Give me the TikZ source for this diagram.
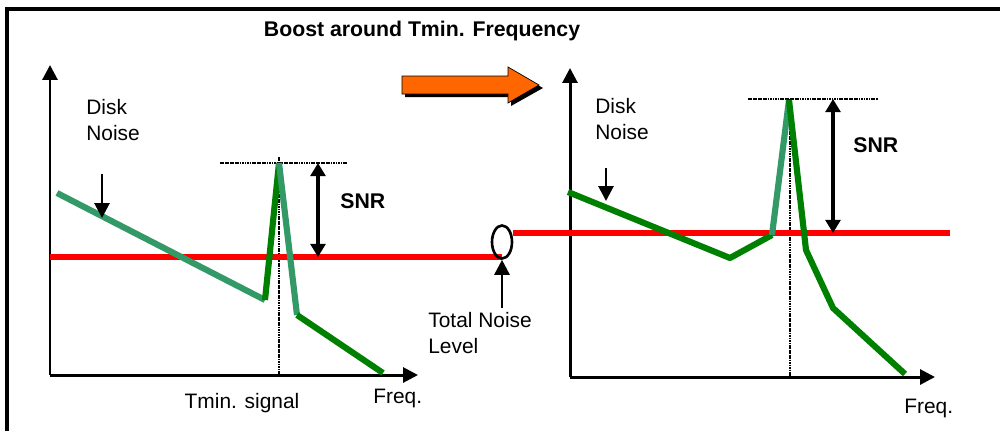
\documentclass[tikz,border=0pt]{standalone}
\usepackage{fontspec}
\setmainfont{Liberation Sans}
\usetikzlibrary{arrows.meta,shapes.geometric}
\definecolor{dkgreen}{HTML}{008000}
\definecolor{sgreen}{HTML}{339966}
\definecolor{orng}{HTML}{FF6600}
\begin{document}
\begin{tikzpicture}[x=0.02cm,y=-0.02cm,
  axisline/.style={line width=1.7pt,-{Triangle[length=8.5pt,width=8.5pt]}},
  snrarrow/.style={line width=1.8pt,{Triangle[length=7.5pt,width=8.5pt]}-{Triangle[length=7.5pt,width=8.5pt]}},
  pointer/.style={line width=1.6pt,-{Triangle[length=8.5pt,width=8.5pt]}},
  dotline/.style={line width=1.3pt,dash pattern=on 1pt off 0.4pt},
  lbl/.style={font=\fontsize{11.9}{14.8}\selectfont,inner sep=0pt},
  blbl/.style={font=\fontsize{12.1}{14.8}\selectfont\bfseries,inner sep=0pt},
  dkseg/.style={dkgreen,line width=3.5pt},
  sgseg/.style={sgreen,line width=3.5pt},
  noise/.style={red,line width=3.6pt}
]
\useasboundingbox (0,0) rectangle (1000,430);
% frame
\draw[line width=1.8pt] (7,432) -- (7,9) -- (1002,9);
% title
\node[blbl] (title) at (422,31) {Boost around Tmin. Frequency};
% orange block arrow with shadow
\fill[black] (405,79) -- (511,79) -- (511,70) -- (543,88) -- (511,106) -- (511,97) -- (405,97) -- cycle;
\filldraw[fill=orng,draw=black,line width=0.4pt] (402,76) -- (508,76) -- (508,67) -- (539,85) -- (508,103) -- (508,94) -- (402,94) -- cycle;

% ---------- left chart ----------
\coordinate (Lo) at (50,375);
\coordinate (Lytop) at (50,65);
\coordinate (Lxend) at (418,375);
\draw[axisline] (Lo) -- (Lytop);
\draw[axisline] (Lo) -- (Lxend);
\coordinate (Lpk) at (279,163);
\coordinate (Lvb) at (279,375);
\coordinate (Lvt) at (279,157);
\draw[dotline] (Lvt) -- (Lvb);
\coordinate (Lh1) at (220,163);
\coordinate (Lh2) at (347,163);
\draw[dotline] (Lh1) -- (Lh2);
% noise level
\coordinate (Lr1) at (50,257);
\coordinate (Lr2) at (502,257);
\draw[noise] (Lr1) -- (Lr2);
% spectrum
\coordinate (La) at (57,193);
\coordinate (Lb) at (265,300);
\coordinate (Lc) at (297,315);
\coordinate (Ld) at (383,373);
\draw[sgseg] (La) -- (Lb);
\draw[dkseg] (Lb) -- (Lpk);
\draw[sgseg] (Lpk) -- (Lc);
\draw[dkseg] (Lc) -- (Ld);
% SNR
\coordinate (Ls1) at (318,163);
\coordinate (Ls2) at (318,257);
\draw[snrarrow] (Ls1) -- (Ls2);
\node[blbl,anchor=base west] (Lsnr) at (340,208) {SNR};
% disk noise
\node[lbl,anchor=north west,align=left] (Ldn) at (86,99) {Disk\\Noise};
\coordinate (Ldn1) at (102,174);
\coordinate (Ldn2) at (102,218);
\draw[pointer] (Ldn1) -- (Ldn2);
\node[lbl,anchor=base] (tmin) at (242,408) {Tmin. signal};
\node[lbl,anchor=base west] (Lfreq) at (373,403) {Freq.};

% total noise level
\node[ellipse,draw,line width=1.5pt,minimum width=0.4cm,minimum height=0.66cm,inner sep=0pt] (tnl) at (502,242) {};
\coordinate (tnla) at (502,308);
\draw[pointer] (tnla) -- (tnl.south);
\node[lbl,anchor=north west,align=left] (tnltxt) at (428,312) {Total Noise\\Level};

% ---------- right chart ----------
\coordinate (Ro) at (570,377);
\coordinate (Rytop) at (570,68);
\coordinate (Rxend) at (935,377);
\draw[axisline] (Ro) -- (Rytop);
\draw[axisline] (Ro) -- (Rxend);
\coordinate (Rpk) at (789,100);
\coordinate (Rvb) at (790,377);
\coordinate (Rvt) at (790,99);
\draw[dotline] (Rvt) -- (Rvb);
\coordinate (Rh1) at (748,99);
\coordinate (Rh2) at (878,99);
\draw[dotline] (Rh1) -- (Rh2);
\coordinate (Rr1) at (tnl.east |- 0,233);
\coordinate (Rr2) at (950,233);
\draw[noise] (Rr1) -- (Rr2);
\coordinate (Ra) at (568,192);
\coordinate (Rb) at (730,258);
\coordinate (Rc) at (772,235);
\coordinate (Rd) at (806,250);
\coordinate (Re) at (833,308);
\coordinate (Rf) at (905,374);
\draw[dkseg,line join=round] (Ra) -- (Rb) -- (Rc);
\draw[sgseg] (Rc) -- (Rpk);
\draw[dkseg,line join=round] (Rpk) -- (Rd) -- (Re) -- (Rf);
\coordinate (Rs1) at (833,99);
\coordinate (Rs2) at (833,233);
\draw[snrarrow] (Rs1) -- (Rs2);
\node[blbl,anchor=base west] (Rsnr) at (853,152) {SNR};
\node[lbl,anchor=north west,align=left] (Rdn) at (595,98) {Disk\\Noise};
\coordinate (Rdn1) at (606,168);
\coordinate (Rdn2) at (606,201);
\draw[pointer] (Rdn1) -- (Rdn2);
\node[lbl,anchor=base west] (Rfreq) at (904,413) {Freq.};
\end{tikzpicture}
\end{document}
